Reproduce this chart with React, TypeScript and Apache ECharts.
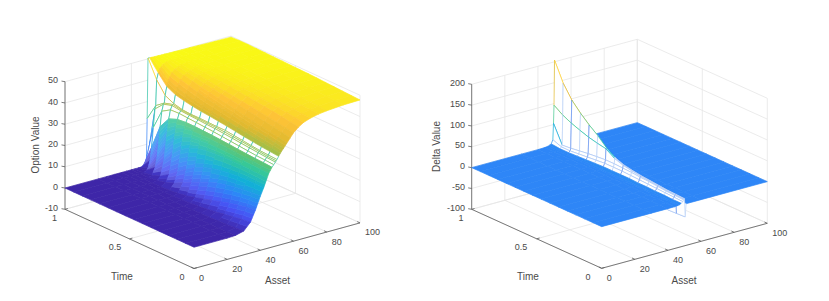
import React, { useEffect, useRef } from "react";
import * as echarts from "echarts";

const timeRows = [1, 0.933, 0.867, 0.8, 0.733, 0.667, 0.6, 0.533, 0.467, 0.4, 0.333, 0.267, 0.2, 0.133, 0.067, 0];

const optionAssets = [0, 20, 25, 30, 34, 37, 40, 42, 44, 45, 46, 47, 48, 49, 49.5, 50, 51, 52, 54, 56, 58, 60, 63, 66, 70, 75, 80, 90, 100];
const optionValues = [
  [0, 0, 0, 0, 0, 0, 0, 0, 0, 0, 0, 0, 0, 0, 22, 50.4, 50.3, 50.3, 50.2, 50.2, 50.1, 50.1, 50, 50, 49.9, 49.9, 49.8, 49.6, 49.5],
  [0, 0, 0, 0, 0, 0, 0, 0.1, 0.8, 2, 5, 11, 20, 28.5, 30, 42, 45, 47, 48.6, 49.2, 49.5, 49.6, 49.7, 49.7, 49.7, 49.7, 49.7, 49.7, 49.7],
  [0, 0, 0, 0, 0, 0, 0.1, 0.7, 4, 8, 14.5, 22.5, 29.5, 32.6, 33, 36.5, 40.5, 43.5, 46.4, 47.7, 48.4, 48.9, 49.3, 49.5, 49.6, 49.6, 49.6, 49.7, 49.7],
  [0, 0, 0, 0, 0, 0, 0.5, 2.2, 9, 15.5, 22, 28, 32, 33.8, 34.2, 34.5, 38.5, 41.8, 45, 46.6, 47.5, 48.2, 48.9, 49.2, 49.4, 49.5, 49.5, 49.6, 49.6],
  [0, 0, 0, 0, 0, 0.1, 1.4, 4.8, 14, 20.5, 25.6, 29.6, 32.2, 33.2, 33.4, 33.5, 37.5, 40.5, 43.8, 45.7, 46.8, 47.6, 48.4, 48.9, 49.1, 49.3, 49.4, 49.5, 49.5],
  [0, 0, 0, 0, 0, 0.3, 3, 8, 18, 23.5, 27.2, 30, 31.9, 32.9, 33.1, 33.2, 36.8, 39.5, 42.8, 44.8, 46, 47, 48, 48.5, 48.8, 49.1, 49.2, 49.4, 49.4],
  [0, 0, 0, 0, 0.1, 0.7, 5, 11, 20.5, 25, 27.8, 30, 31.6, 32.7, 33, 33.2, 36.2, 38.7, 41.8, 44, 45.4, 46.4, 47.6, 48.2, 48.6, 48.9, 49.1, 49.3, 49.3],
  [0, 0, 0, 0, 0.2, 1.4, 7, 13.6, 22, 25.6, 28, 29.8, 31.3, 32.4, 32.8, 33.1, 35.8, 38, 41, 43.2, 44.7, 45.8, 47.2, 47.9, 48.3, 48.7, 49, 49.2, 49.2],
  [0, 0, 0, 0, 0.4, 2.4, 9, 15.5, 22.8, 26, 28, 29.6, 31, 32.2, 32.7, 33, 35.3, 37.3, 40.2, 42.4, 44, 45.2, 46.7, 47.5, 48, 48.5, 48.8, 49, 49.1],
  [0, 0, 0, 0, 0.8, 3.6, 10.8, 16.9, 23.2, 26, 27.8, 29.3, 30.6, 31.8, 32.4, 33, 34.8, 36.6, 39.4, 41.6, 43.3, 44.6, 46.2, 47.2, 47.7, 48.2, 48.5, 48.8, 49],
  [0, 0, 0, 0.1, 1.3, 4.8, 12.3, 17.8, 23.5, 25.9, 27.6, 29, 30.2, 31.4, 32, 32.5, 34.2, 35.9, 38.6, 40.8, 42.6, 44, 45.8, 46.8, 47.4, 48, 48.3, 48.6, 48.8],
  [0, 0, 0, 0.2, 1.9, 6, 13.4, 18.4, 23.6, 25.8, 27.3, 28.6, 29.8, 31, 31.6, 32, 33.6, 35.2, 37.8, 40, 41.9, 43.4, 45.3, 46.4, 47.1, 47.7, 48.1, 48.4, 48.6],
  [0, 0, 0, 0.4, 2.6, 7.2, 14.2, 18.8, 23.6, 25.6, 27, 28.3, 29.4, 30.6, 31.2, 31.5, 33.1, 34.6, 37.1, 39.2, 41.2, 42.8, 44.8, 46, 46.8, 47.4, 47.8, 48.2, 48.4],
  [0, 0, 0, 0.6, 3.3, 8.2, 14.8, 19, 23.4, 25.4, 26.8, 28, 29, 30.2, 30.7, 31, 32.6, 34, 36.4, 38.5, 40.5, 42.2, 44.2, 45.5, 46.4, 47.1, 47.6, 48, 48.2],
  [0, 0, 0.1, 0.9, 4, 9, 15.2, 19, 23.2, 25.2, 26.5, 27.8, 28.8, 29.8, 30.2, 30.7, 32.2, 33.5, 35.7, 37.8, 39.8, 41.6, 43.6, 45, 46, 46.8, 47.3, 47.8, 48],
  [0, 0, 0.2, 1.2, 4.5, 9.5, 15.5, 19, 23, 25, 26.3, 27.5, 28.5, 29.5, 30, 30.5, 31.8, 33, 35, 37, 39, 41, 43, 44.5, 45.6, 46.5, 47, 47.6, 47.8],
];

const deltaAssets = [0, 30, 40, 44, 46, 47, 48, 49, 49.4, 49.7, 50, 50.4, 51, 60, 100];
const deltaValues = [
  [0, 0, 0, 0.5, 1.5, 3, 5, 14, 53, 96, 204, -10, 0, 0, 0],
  [0, 0, 0, 0.2, 0.5, 1, 3, 6, 10, 82, 158, -10, 0, 0, 0],
  [0, 0, 0, 0.2, 0.5, 1, 3, 6, 12, 72, 127, -10, 0, 0, 0],
  [0, 0, 0, 0.2, 0.6, 1.2, 4, 8, 15, 64, 105, -10, 0, 0, 0],
  [0, 0, 0, 0.3, 0.8, 1.5, 5, 10, 18, 57, 86, -10, 0, 0, 0],
  [0, 0, 0, 0.3, 1, 2, 6, 12, 20, 52, 70, -12, 0, 0, 0],
  [0, 0, 0, 0.3, 1, 2, 7, 14, 22, 48, 50, -14, 0, 0, 0],
  [0, 0, 0, 0.3, 1, 2, 7, 14, 22, 34, 36, -15, 0, 0, 0],
  [0, 0, 0, 0.3, 1, 2, 7, 14, 21, 27, 28, -16, 0, 0, 0],
  [0, 0, 0, 0.3, 1, 2, 7, 13, 20, 23, 24, -18, 0, 0, 0],
  [0, 0, 0, 0.3, 1, 2, 6, 12, 18, 20, 21, -20, 0, 0, 0],
  [0, 0, 0, 0.3, 1, 2, 6, 11, 17, 18, 19, -22, 0, 0, 0],
  [0, 0, 0, 0.3, 1, 2, 5, 10, 15, 16, 17, -25, 0, 0, 0],
  [0, 0, 0, 0.3, 1, 2, 5, 9, 13, 14, 15, -33, 0, 0, 0],
  [0, 0, 0, 0.3, 1, 2, 4, 8, 12, 13, 14, -32, 0, 0, 0],
  [0, 0, 0, 0.3, 1, 2, 4, 7, 11, 12, 13, -31, 0, 0, 0],
];

const assetTicks = [0, 20, 40, 60, 80, 100];
const timeTicks = [1, 0.5, 0];
const optionZTicks = [-10, 0, 10, 20, 30, 40, 50];
const deltaZTicks = [-100, -50, 0, 50, 100, 150, 200];

const parulaStops = ["#3E26A8", "#4852F4", "#2D87F7", "#12B1D6", "#37C897", "#8DC04F", "#E1B92F", "#FEC337", "#F9FB14"];
const parulaAt = [0, 0.11, 0.24, 0.365, 0.49, 0.62, 0.75, 0.87, 1];

function parula(f: number, lighten = 0) {
  const t = Math.min(1, Math.max(0, f));
  let i = 0;
  while (i < parulaAt.length - 2 && t > parulaAt[i + 1]) i++;
  const u = (t - parulaAt[i]) / (parulaAt[i + 1] - parulaAt[i]);
  const a = parseInt(parulaStops[i].slice(1), 16);
  const b = parseInt(parulaStops[i + 1].slice(1), 16);
  const ch = (s: number) => {
    const v = ((a >> s) & 255) * (1 - u) + ((b >> s) & 255) * u;
    return Math.round(v * (1 - lighten) + 255 * lighten);
  };
  return `rgb(${ch(16)},${ch(8)},${ch(0)})`;
}

type Panel = {
  o: number[]; av: number[]; tv: number[]; zs: number; zMin: number; zMax: number;
  cMin: number; cMax: number; assets: number[]; values: number[][]; wire: number[];
  zTicks: number[]; zName: string; zNameX: number; zNameY: number;
  zLabelX: number; assetName: number[]; timeName: number[];
  timeLabels: number[][]; riser: string | null; riserPale: string | null; riserMax: number;
  wallLight: number; wallShade: number; hatchPale: string | null;
};

const leftPanel: Panel = {
  o: [65, 209.3], av: [166, -45.6], tv: [129, 59.2], zs: 2.127, zMin: -10, zMax: 50,
  cMin: 0, cMax: 50, assets: optionAssets, values: optionValues, wire: [47, 51],
  zTicks: optionZTicks, zName: "Option Value", zNameX: 35, zNameY: 145, zLabelX: 58,
  assetName: [277.5, 280], timeName: [122, 276.5],
  timeLabels: [[54.5, 217.5], [115, 247], [182, 277]], riser: null, riserPale: null, riserMax: 23,
  wallLight: 0.2, wallShade: 0.82, hatchPale: null,
};
const rightPanel: Panel = {
  o: [471.7, 209.3], av: [165.6, -45], tv: [130, 59], zs: 0.4167, zMin: -100, zMax: 200,
  cMin: -65, cMax: 210, assets: deltaAssets, values: deltaValues, wire: [48, 51],
  zTicks: deltaZTicks, zName: "Delta Value", zNameX: 436, zNameY: 146.5, zLabelX: 465,
  assetName: [684, 280], timeName: [528, 276.5],
  timeLabels: [[461, 217.5], [521, 247], [588, 277]], riser: "#6a97ef", riserPale: "#bcd2f7", riserMax: 1000,
  wallLight: 0, wallShade: 1, hatchPale: "#a9c6f5",
};

function project(p: Panel, a: number, t: number, z: number) {
  return [
    p.o[0] + (p.av[0] * a) / 100 + p.tv[0] * (1 - t),
    p.o[1] + (p.av[1] * a) / 100 + p.tv[1] * (1 - t) - p.zs * (z - p.zMin),
  ];
}

function surfaceSeries(p: Panel) {
  const cells: number[][] = [];
  for (let k = 0; k < timeRows.length - 1; k++) {
    for (let c = p.assets.length - 2; c >= 0; c--) cells.push([k, c]);
  }
  const frac = (v: number) => (v - p.cMin) / (p.cMax - p.cMin);
  const col = (v: number, l = 0) => parula(frac(v), l);
  return {
    type: "custom",
    coordinateSystem: "cartesian2d",
    silent: true,
    clip: false,
    data: cells,
    renderItem: (params: any, api: any) => {
      const [k, c] = cells[params.dataIndex];
      const pt = (r: number, q: number) =>
        api.coord(project(p, p.assets[q], timeRows[r], p.values[r][q]));
      const corners = [pt(k, c), pt(k, c + 1), pt(k + 1, c + 1), pt(k + 1, c)];
      const vals = [p.values[k][c], p.values[k][c + 1], p.values[k + 1][c + 1], p.values[k + 1][c]];
      const isWire = p.assets[c] >= p.wire[0] && p.assets[c + 1] <= p.wire[1];
      if (!isWire) {
        const v0 = (vals[0] + vals[3]) / 2;
        const v1 = (vals[1] + vals[2]) / 2;
        const onWall = p.assets[c + 1] <= p.wire[0];
        const fade = Math.max(0, 1 - k / 11);
        const l = onWall ? p.wallLight * fade : 0;
        const shade = onWall ? 1 - (1 - p.wallShade) * fade : 1;
        const n = Math.max(1, Math.min(8, Math.ceil((Math.abs(v1 - v0) / (p.cMax - p.cMin)) * 25)));
        const children: any[] = [];
        const mix = (a: number[], b: number[], u: number) => [a[0] + (b[0] - a[0]) * u, a[1] + (b[1] - a[1]) * u];
        for (let s = 0; s < n; s++) {
          const u0 = s / n;
          const u1 = (s + 1) / n;
          const v = v0 + (v1 - v0) * ((u0 + u1) / 2);
          const fc = col(v * shade, v > 3 ? l : 0);
          children.push({
            type: "polygon",
            shape: {
              points: [
                mix(corners[0], corners[1], u0),
                mix(corners[0], corners[1], u1),
                mix(corners[3], corners[2], u1),
                mix(corners[3], corners[2], u0),
              ],
            },
            style: { fill: fc, stroke: fc, lineWidth: 0.7 },
          });
        }
        return { type: "group", children };
      }
      const edge = (i: number, j: number, alongT: boolean, row: number) => {
        const m = (vals[i] + vals[j]) / 2;
        let stroke = col(m);
        if (alongT) {
          if (p.riser && row > 0) {
            stroke = row % 2 === 1 ? (p.riserPale as string) : p.riser;
          } else {
            stroke = col(Math.min(m, p.riserMax));
          }
        } else if (p.hatchPale && Math.max(vals[i], vals[j]) < 40) {
          stroke = p.hatchPale;
        }
        return {
          type: "line",
          shape: { x1: corners[i][0], y1: corners[i][1], x2: corners[j][0], y2: corners[j][1] },
          style: { stroke, lineWidth: 0.7, fill: "none" },
        };
      };
      return {
        type: "group",
        children: [
          { type: "polygon", shape: { points: corners }, style: { fill: "#ffffff", stroke: "none" } },
          edge(0, 1, true, k), edge(1, 2, false, k), edge(2, 3, true, k + 1), edge(3, 0, false, k),
        ],
      };
    },
  };
}

function frameSeries(p: Panel) {
  const GRID = "#e6e6e6";
  const AXIS = "#5a5a5a";
  const TXT = "#4a4a4a";
  const items: any[] = [];
  const line = (a: number[], b: number[], stroke: string) => items.push({ kind: "line", a, b, stroke });
  const text = (t: string, x: number, y: number, size: number, align: string, rotate = 0) =>
    items.push({ kind: "text", t, x, y, size, align, rotate });

  for (const z of p.zTicks) {
    line(project(p, 0, 1, z), project(p, 100, 1, z), GRID);
    line(project(p, 100, 1, z), project(p, 100, 0, z), GRID);
  }
  for (const a of assetTicks) {
    line(project(p, a, 1, p.zMin), project(p, a, 1, p.zMax), GRID);
    line(project(p, a, 1, p.zMin), project(p, a, 0, p.zMin), GRID);
  }
  for (const t of timeTicks) {
    line(project(p, 100, t, p.zMin), project(p, 100, t, p.zMax), GRID);
    line(project(p, 0, t, p.zMin), project(p, 100, t, p.zMin), GRID);
  }
  line(project(p, 0, 1, p.zMin), project(p, 0, 1, p.zMax), AXIS);
  line(project(p, 0, 1, p.zMin), project(p, 0, 0, p.zMin), AXIS);
  line(project(p, 0, 0, p.zMin), project(p, 100, 0, p.zMin), AXIS);

  for (const z of p.zTicks) {
    const q = project(p, 0, 1, z);
    line(q, [q[0] - 3.5, q[1] - 0.6], AXIS);
    text(String(z), p.zLabelX, q[1] - 1.3, 9, "right");
  }
  assetTicks.forEach((a) => {
    const q = project(p, a, 0, p.zMin);
    line(q, [q[0] - 2.8, q[1] - 1.3], AXIS);
    text(String(a), q[0] + 5, q[1] + 9.5, 9, "left");
  });
  timeTicks.forEach((t, i) => {
    const q = project(p, 0, t, p.zMin);
    line(q, [q[0] + 2.9, q[1] - 0.8], AXIS);
    text(String(t), p.timeLabels[i][0], p.timeLabels[i][1], 9, "center");
  });
  text(p.zName, p.zNameX, p.zNameY, 10, "center", Math.PI / 2);
  text("Asset", p.assetName[0], p.assetName[1], 10, "center");
  text("Time", p.timeName[0], p.timeName[1], 10, "center");

  return {
    type: "custom",
    coordinateSystem: "cartesian2d",
    silent: true,
    clip: false,
    data: items.map((_, i) => [i]),
    renderItem: (params: any, api: any) => {
      const it = items[params.dataIndex];
      if (it.kind === "line") {
        const a = api.coord(it.a);
        const b = api.coord(it.b);
        return {
          type: "line",
          shape: { x1: a[0], y1: a[1], x2: b[0], y2: b[1] },
          style: { stroke: it.stroke, lineWidth: 0.8, fill: "none" },
        };
      }
      const c = api.coord([it.x, it.y]);
      return {
        type: "text",
        x: c[0],
        y: c[1],
        rotation: it.rotate,
        style: {
          text: it.t,
          x: 0,
          y: 0,
          fill: TXT,
          font: `${it.size}px "Liberation Sans", Arial, sans-serif`,
          align: it.align,
          verticalAlign: "middle",
        },
      };
    },
  };
}

export default function App() {
  const ref = useRef<HTMLDivElement>(null);
  useEffect(() => {
    const chart = echarts.init(ref.current!, undefined, { renderer: "svg" });
    chart.setOption({
      animation: false,
      backgroundColor: "#ffffff",
      grid: { left: 0, right: 0, top: 0, bottom: 0 },
      xAxis: { type: "value", min: 0, max: 829, show: false },
      yAxis: { type: "value", min: 0, max: 301, inverse: true, show: false },
      series: [
        frameSeries(leftPanel),
        surfaceSeries(leftPanel),
        frameSeries(rightPanel),
        surfaceSeries(rightPanel),
      ],
    });
    return () => chart.dispose();
  }, []);
  return (
    <div
      ref={ref}
      style={{ position: "absolute", left: 0, top: 0, width: 829, height: 301 }}
    />
  );
}
